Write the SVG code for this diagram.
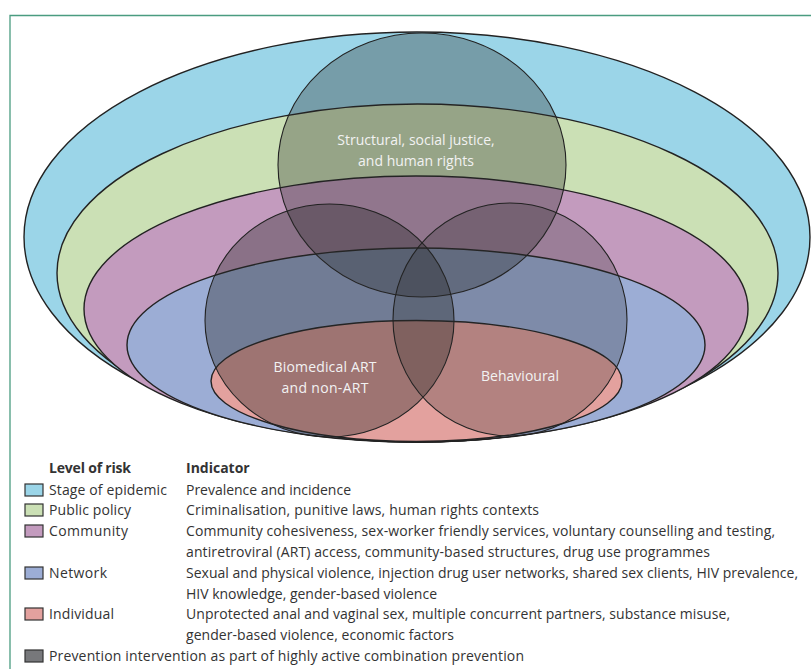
<svg xmlns="http://www.w3.org/2000/svg" width="811" height="669" viewBox="0 0 811 669">
<style>
.e{stroke:#222;stroke-width:1.4}
.c{fill:#2a2a2a;fill-opacity:.33;stroke:#222;stroke-width:1.1}
.l{fill-opacity:.37}
.r{fill-opacity:.26}
text{font-family:"Open Sans","Noto Sans","Liberation Sans",sans-serif;font-size:14px;fill:#333}
.w{fill:#f2f2f2;text-anchor:middle}
.b{font-weight:700}
.k{stroke:#333;stroke-width:1.2}
</style>
<rect width="811" height="669" fill="#fff"/>
<path d="M10 669V15.500H811" fill="none" stroke="#4a9c80" stroke-width="1.300"/>
<g id="connectors"/>
<g id="stage-of-epidemic"><ellipse class="e" cx="417" cy="237" rx="393" ry="205" fill="#9bd5e8"/></g>
<g id="public-policy"><ellipse class="e" cx="417.500" cy="273" rx="360.500" ry="169" fill="#cbe0b5"/></g>
<g id="community"><ellipse class="e" cx="416" cy="309" rx="332" ry="133" fill="#c39bbe"/></g>
<g id="network"><ellipse class="e" cx="416" cy="345" rx="289" ry="97" fill="#9cadd5"/></g>
<g id="individual"><ellipse class="e" cx="416.500" cy="381" rx="205.500" ry="60.500" fill="#e3a19e"/></g>
<g id="structural"><ellipse class="c" cx="422" cy="165" rx="144" ry="132"/><text class="w" x="416" y="145">Structural, social justice,</text><text class="w" x="416" y="166">and human rights</text></g>
<g id="biomedical"><ellipse class="c l" cx="329.500" cy="320.500" rx="124.500" ry="116.500"/><text class="w" x="325" y="372" textLength="103">Biomedical ART</text><text class="w" x="325" y="393" textLength="87">and non-ART</text></g>
<g id="behavioural"><ellipse class="c r" cx="510" cy="319.500" rx="117" ry="116.500"/><text class="w" x="520" y="381">Behavioural</text></g>
<g id="legend">
<text class="b" x="49" y="473" textLength="82">Level of risk</text><text class="b" x="186" y="473">Indicator</text>
<rect class="k" x="25" y="484" width="18" height="12" fill="#9bd5e8"/><text x="49" y="495" textLength="118">Stage of epidemic</text><text x="186" y="495" textLength="165">Prevalence and incidence</text>
<rect class="k" x="25" y="504" width="18" height="12" fill="#cbe0b5"/><text x="49" y="515" textLength="82">Public policy</text><text x="186" y="515" textLength="353">Criminalisation, punitive laws, human rights contexts</text>
<rect class="k" x="25" y="525" width="18" height="12" fill="#c39bbe"/><text x="49" y="536" textLength="79">Community</text><text x="186" y="536" textLength="589">Community cohesiveness, sex-worker friendly services, voluntary counselling and testing,</text>
<text x="186" y="557" textLength="524">antiretroviral (ART) access, community-based structures, drug use programmes</text>
<rect class="k" x="25" y="567" width="18" height="12" fill="#9cadd5"/><text x="49" y="578" textLength="58">Network</text><text x="186" y="578" textLength="612">Sexual and physical violence, injection drug user networks, shared sex clients, HIV prevalence,</text>
<text x="186" y="599" textLength="251">HIV knowledge, gender-based violence</text>
<rect class="k" x="25" y="608" width="18" height="12" fill="#e3a19e"/><text x="49" y="619" textLength="65">Individual</text><text x="186" y="619" textLength="544">Unprotected anal and vaginal sex, multiple concurrent partners, substance misuse,</text>
<text x="186" y="640" textLength="268">gender-based violence, economic factors</text>
<rect class="k" x="25" y="650" width="18" height="12" fill="#77787b"/><text x="49" y="661" textLength="475">Prevention intervention as part of highly active combination prevention</text>
</g>
</svg>
